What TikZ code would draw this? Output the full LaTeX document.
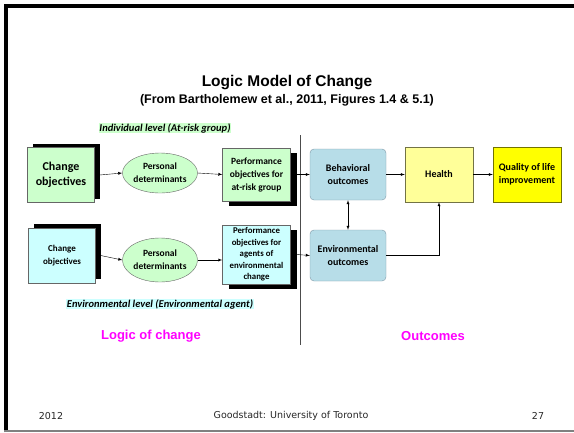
\documentclass[tikz,border=0pt]{standalone}
\usepackage{fontspec}
\setmainfont{Carlito}
\newfontfamily\arialfont{Liberation Sans}
\newfontfamily\verdanafont{DejaVu Sans}
\usepackage{tikz}
\usetikzlibrary{shapes.geometric}
\usetikzlibrary{shadows}
\usetikzlibrary{arrows}
\tikzset{>=latex}
\definecolor{chggreen}{HTML}{CCFFCC}
\definecolor{chgcyan}{HTML}{CCFFFF}
\definecolor{outblue}{HTML}{B7DDE8}
\definecolor{outline}{HTML}{7F98A6}
\definecolor{healthyellow}{HTML}{FFFF99}
\definecolor{qolyellow}{HTML}{FFFF00}
\definecolor{labelpink}{HTML}{FF00FF}

\begin{document}
\begin{tikzpicture}[x=1pt,y=-1pt,
                    chgbox/.style={
                        draw=black!60,
                        fill=#1,
                        align=center,
                        inner sep=1pt,
                        minimum width=67pt,
                        minimum height=55pt,
                        drop shadow={shadow xshift=5pt, shadow yshift=4pt, fill=black, opacity=1},
                    },
                    perfbox/.style={
                        draw=black!60,
                        fill=#1,
                        align=center,
                        inner sep=0pt,
                        minimum width=68pt,
                        drop shadow={shadow xshift=6pt, shadow yshift=-5pt, fill=black, opacity=1},
                    },
                    detnode/.style={
                        ellipse,
                        draw=black!60,
                        fill=chggreen,
                        align=center,
                        inner sep=0pt,
                        minimum width=75pt,
                        font={\bfseries\fontsize{9.5}{13}\selectfont},
                    },
                    outbox/.style={
                        draw=outline,
                        fill=outblue,
                        rounded corners=4pt,
                        align=center,
                        minimum width=76pt,
                        minimum height=51pt,
                        font={\bfseries\fontsize{10}{13}\selectfont},
                    },
                    goalbox/.style={
                        draw=#1!45!black,
                        fill=#1,
                        align=center,
                        minimum width=68pt,
                        minimum height=55pt,
                        font={\bfseries\fontsize{10}{13}\selectfont},
                    },
                    levellabel/.style={
                        fill=#1,
                        inner sep=0.5pt,
                        font={\bfseries\itshape\fontsize{10.5}{11}\selectfont},
                    },
                    sidelabel/.style={
                        text=labelpink,
                        font={\arialfont\bfseries\fontsize{13}{15}\selectfont},
                    },
                    footer/.style={
                        font={\verdanafont\fontsize{9.5}{11}\selectfont},
                        text=black!85,
                    },
                ]
                    \useasboundingbox (0,0) rectangle (574,432);
                    \draw[line width=3.5pt] (5.75,432) -- (5.75,5.75) -- (574,5.75);
                    \draw[black!50, line width=1.2pt] (4,431) -- (574,431);

                    \node (title) at (287,82.5) {\arialfont\bfseries\fontsize{15.5}{18}\selectfont Logic Model of Change};
                    \node (subtitle) at (287,100.5) {\arialfont\bfseries\fontsize{12.5}{14}\selectfont (From Bartholemew et al., 2011, Figures 1.4 \& 5.1)};

                    \node[levellabel=chggreen] (indiv) at (165,128) {Individual level (At-risk group)};
                    \node[levellabel=chgcyan] (envlevel) at (160,304) {Environmental level (Environmental agent)};

                    \node[chgbox=chggreen, font={\bfseries\fontsize{12}{15}\selectfont}] (chgind) at (61,175) {Change\\objectives};
                    \node[detnode, minimum height=40pt] (detind) at (160,173) {Personal\\determinants};
                    \node[perfbox=chggreen, minimum height=53pt, font={\bfseries\fontsize{9.5}{13}\selectfont}] (perfind) at (256.5,174.5) {Performance\\objectives for\\at-risk group};

                    \node[chgbox=chgcyan, font={\bfseries\fontsize{9}{13}\selectfont}] (chgenv) at (62,255.5) {Change\\objectives};
                    \node[detnode, minimum height=44pt] (detenv) at (160,260) {Personal\\determinants};
                    \node[perfbox=chgcyan, minimum height=59pt, font={\bfseries\fontsize{8.8}{11.5}\selectfont}] (perfenv) at (256.5,254.5) {Performance\\objectives for\\agents of\\environmental\\change};

                    \node[outbox] (behav) at (348,174.5) {Behavioral\\outcomes};
                    \node[outbox] (envout) at (348,255.5) {Environmental\\outcomes};
                    \node[goalbox=healthyellow] (health) at (439,174.5) {Health};
                    \node[goalbox=qolyellow] (qol) at (527,174.5) {Quality of life\\improvement};

                    \draw[black!70, line width=0.8pt] (300,135) -- (300,345);

                    \draw[->] ([xshift=5pt]chgind.east) -- (detind.west);
                    \draw[->] (detind.east) -- (perfind.west);
                    \draw[->] ([xshift=6pt]perfind.east) -- (behav.west);
                    \draw[->] ([xshift=5pt]chgenv.east) -- (detenv.west);
                    \draw[->] (detenv.east) -- (perfenv.west |- detenv.east);
                    \draw[->] ([xshift=6pt]perfenv.east) -- (envout.west);
                    \draw[->] (behav.east) -- (health.west);
                    \draw[->] (health.east) -- (qol.west);
                    \draw[<->] (behav.south) -- (envout.north);
                    \draw[->] (envout.east) -| (health.south);

                    \node[sidelabel] (logiclabel) at (151,336) {Logic of change};
                    \node[sidelabel] (outlabel) at (433,336) {Outcomes};

                    \node[footer] (year) at (51,416) {2012};
                    \node[footer] (source) at (291,416) {Goodstadt: University of Toronto};
                    \node[footer] (page) at (538,416) {27};
                \end{tikzpicture}
\end{document}
